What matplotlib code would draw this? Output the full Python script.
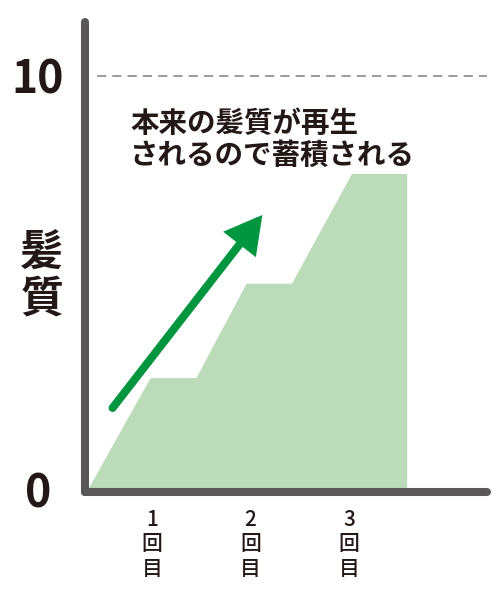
import matplotlib.pyplot as plt
from matplotlib.patches import FancyArrowPatch

plt.rcParams['font.family'] = ['Noto Sans CJK JP', 'DejaVu Sans']

# step outline of the hair quality area (x: sessions, y: 0-10 scale)
step_x = [0.35, 0.985, 1.45, 1.96, 2.42, 3.03, 3.59, 3.59]
step_y = [0.0, 2.7, 2.7, 4.98, 4.98, 7.63, 7.63, 0.0]

sessions = [1, 2, 3]
session_labels = ['1\n回\n目', '2\n回\n目', '3\n回\n目']
y_ticks = [0, 10]
y_labels = ['0', '10']

arrow_start = (0.60, 1.98)
arrow_end = (2.12, 6.64)

text_col = '#231815'
axis_col = '#595757'

fig = plt.figure(figsize=(5, 6), dpi=100)
ax = fig.add_axes([85/500, 108/600, 402/500, 470/600])

ax.fill(step_x, step_y, color='#bcdcb9', lw=0, zorder=1)
ax.axhline(10, xmin=0.03, xmax=1.0, color='#808080', lw=1.1,
           dashes=(6, 4), zorder=1)

arr = FancyArrowPatch(arrow_start, arrow_end,
                      arrowstyle='-|>,head_length=0.9,head_width=0.5',
                      mutation_scale=20, lw=5.8, color='#009640',
                      capstyle='round', joinstyle='miter', shrinkA=0, shrinkB=0,
                      zorder=3)
ax.add_patch(arr)

ax.text(0.78, 8.45, '本来の髪質が再生\nされるので蓄積される', fontsize=20.5,
        fontweight='bold', color=text_col, ha='left', va='center', linespacing=1.2)

ax.set_xlim(0.32, 4.4)
ax.set_ylim(-0.05, 11.3)

ax.set_xticks(sessions)
ax.set_xticklabels(session_labels, fontsize=15, color=text_col, linespacing=1.15,
                   fontweight='medium')
ax.set_yticks(y_ticks)
ax.set_yticklabels(y_labels, fontsize=32, color=text_col, ha='center',
                   fontweight='bold')
ax.tick_params(axis='x', length=0, pad=12)
ax.tick_params(axis='y', length=0, pad=34)

ax.set_ylabel('髪\n質', rotation=0, fontsize=31, fontweight='bold',
              color=text_col, linespacing=1.05, va='center', ha='center')
ax.yaxis.set_label_coords(-0.107, 0.46)

for side in ['top', 'right']:
    ax.spines[side].set_visible(False)
for side in ['left', 'bottom']:
    ax.spines[side].set_color(axis_col)
    ax.spines[side].set_linewidth(5.8)
    ax.spines[side].set_capstyle('round')

fig.savefig('out.png', dpi=100)
